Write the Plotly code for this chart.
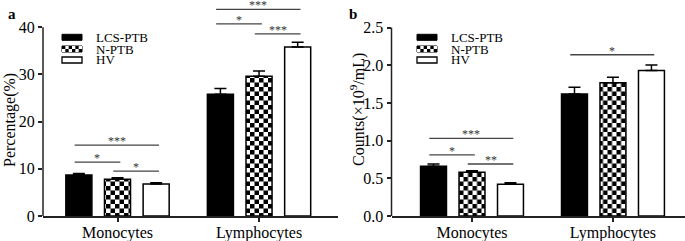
import plotly.graph_objects as go

# ---------------- data ----------------
categories = ["Monocytes", "Lymphocytes"]
groups = ["LCS-PTB", "N-PTB", "HV"]

pct_lcs = [8.7, 25.8]
pct_lcs_err = [0.3, 1.2]
pct_nptb = [7.8, 29.6]
pct_nptb_err = [0.3, 1.1]
pct_hv = [6.8, 35.8]
pct_hv_err = [0.25, 1.0]

cnt_lcs = [0.66, 1.62]
cnt_lcs_err = [0.03, 0.09]
cnt_nptb = [0.58, 1.77]
cnt_nptb_err = [0.02, 0.07]
cnt_hv = [0.42, 1.93]
cnt_hv_err = [0.02, 0.075]

pct_ticks = [0, 10, 20, 30, 40]
pct_ticklabels = ["0", "10", "20", "30", "40"]
cnt_ticks = [0, 0.5, 1.0, 1.5, 2.0, 2.5]
cnt_ticklabels = ["0.0", "0.5", "1.0", "1.5", "2.0", "2.5"]

# significance brackets: (category index, group a, group b, height, label)
pct_sig = [(0, 0, 2, 15.0, "***"), (0, 0, 1, 11.4, "*"), (0, 1, 2, 9.5, "*"),
           (1, 0, 2, 43.8, "***"), (1, 0, 1, 40.7, "*"), (1, 1, 2, 38.6, "***")]
cnt_sig = [(0, 0, 2, 1.03, "***"), (0, 0, 1, 0.81, "*"), (0, 1, 2, 0.69, "**"),
           (1, 0, 2, 2.14, "*")]

# ---------------- style ----------------
W, H = 685, 241
MT, MB = 6, 25
FONT = "Liberation Serif"
BARGAP = 0.181
BARGROUPGAP = 0.326
SLOT = (1 - BARGAP) / 3

def px2x(px):
    return px / W

def py2y(py):
    return (H - MB - py) / (H - MT - MB)

fill_colors = ["black", "white", "white"]

try:
    checker = go.bar.marker.Pattern(path="M0,0H4.5V4.5H0ZM4.5,4.5H9V9H4.5Z",
                                    size=9, fgcolor="black", bgcolor="white",
                                    fillmode="replace", solidity=1)
except Exception:
    checker = go.bar.marker.Pattern(shape="x", size=7, solidity=0.45,
                                    fgcolor="black", bgcolor="white",
                                    fillmode="replace")

fig = go.Figure()

panels = [
    ("x", "y", [pct_lcs, pct_nptb, pct_hv], [pct_lcs_err, pct_nptb_err, pct_hv_err]),
    ("x2", "y2", [cnt_lcs, cnt_nptb, cnt_hv], [cnt_lcs_err, cnt_nptb_err, cnt_hv_err]),
]

for xa, ya, vals, errs in panels:
    for gi, (g, v, e) in enumerate(zip(groups, vals, errs)):
        marker = dict(color=fill_colors[gi], line=dict(color="black", width=1.5))
        if gi == 1:
            marker["pattern"] = checker
        fig.add_trace(go.Bar(
            x=[0, 1], y=v, name=g, xaxis=xa, yaxis=ya, marker=marker,
            offsetgroup=str(gi), showlegend=False,
            error_y=dict(type="data", array=e, arrayminus=[0, 0], symmetric=False,
                         color="black", thickness=1.5, width=6),
        ))

fig.update_layout(
    width=W, height=H,
    margin=dict(l=0, r=0, t=MT, b=MB, autoexpand=False),
    paper_bgcolor="white", plot_bgcolor="white",
    barmode="group", bargap=BARGAP, bargroupgap=BARGROUPGAP,
    font=dict(family=FONT, size=16, color="black"),
    showlegend=False,
)

axis_common = dict(showgrid=False, zeroline=False, linecolor="#222", linewidth=1.5,
                   ticks="outside", ticklen=4, tickwidth=1.5, tickcolor="#222",
                   automargin=False,
                   tickfont=dict(family=FONT, size=16, color="black"))

fig.update_layout(
    xaxis=dict(domain=[px2x(43), px2x(338)], range=[-0.5265, 1.558], ticklabelstandoff=-3,
               tickvals=[0, 1], ticktext=categories, showline=True, anchor="y", **axis_common),
    yaxis=dict(domain=[0, 1], range=[0, 44.5], tickvals=pct_ticks, ticktext=pct_ticklabels,
               showline=False, anchor="x", **axis_common),
    xaxis2=dict(domain=[px2x(391.5), 1], range=[-0.571, 1.511], ticklabelstandoff=-3,
                tickvals=[0, 1], ticktext=categories, showline=True, anchor="y2", **axis_common),
    yaxis2=dict(domain=[0, 1], range=[0, 2.787], tickvals=cnt_ticks, ticktext=cnt_ticklabels,
                showline=False, anchor="x2", **axis_common),
)

shapes = []
annotations = []

# y-axis lines only up to the top tick
shapes.append(dict(type="line", xref="x domain", yref="y", x0=0, x1=0, y0=0, y1=pct_ticks[-1],
                   line=dict(color="#222", width=1.5)))
shapes.append(dict(type="line", xref="x2 domain", yref="y2", x0=0, x1=0, y0=0, y1=cnt_ticks[-1],
                   line=dict(color="#222", width=1.5)))

# significance brackets
for xa, ya, sig in [("x", "y", pct_sig), ("x2", "y2", cnt_sig)]:
    for ci, a, b, h, lab in sig:
        xa0 = ci + (a - 1) * SLOT - 0.03
        xb0 = ci + (b - 1) * SLOT + 0.02
        shapes.append(dict(type="line", xref=xa, yref=ya, x0=xa0, x1=xb0, y0=h, y1=h,
                           line=dict(color="#444", width=1.3)))
        annotations.append(dict(x=(xa0 + xb0) / 2, y=h, xref=xa, yref=ya, text=lab,
                                showarrow=False, yanchor="bottom", yshift=-5,
                                font=dict(family=FONT, size=12, color="#333")))

# manual legends
leg_rows = [37.3, 49.0, 60.0]
for sx, tx in [(62, 94), (417, 449)]:
    for gi, (g, cy) in enumerate(zip(groups, leg_rows)):
        x0, x1 = sx, sx + 20
        y0, y1 = cy - 3, cy + 3
        if gi == 0:
            shapes.append(dict(type="rect", xref="paper", yref="paper",
                               x0=px2x(x0), x1=px2x(x1), y0=py2y(y1), y1=py2y(y0),
                               fillcolor="black", line=dict(color="black", width=1)))
        elif gi == 1:
            shapes.append(dict(type="rect", xref="paper", yref="paper",
                               x0=px2x(x0), x1=px2x(x1), y0=py2y(y1), y1=py2y(y0),
                               fillcolor="black", line=dict(color="black", width=1)))
            ncol, nrow = 6, 2
            cw, ch = 20 / ncol, 6 / nrow
            for r in range(nrow):
                for c in range(ncol):
                    if (r + c) % 2 == 1:
                        shapes.append(dict(type="rect", xref="paper", yref="paper",
                                           x0=px2x(x0 + c * cw), x1=px2x(x0 + (c + 1) * cw),
                                           y0=py2y(y0 + (r + 1) * ch), y1=py2y(y0 + r * ch),
                                           fillcolor="white", line=dict(width=0)))
        else:
            shapes.append(dict(type="rect", xref="paper", yref="paper",
                               x0=px2x(x0), x1=px2x(x1), y0=py2y(y1), y1=py2y(y0),
                               fillcolor="white", line=dict(color="black", width=1.3)))
        annotations.append(dict(x=px2x(tx), y=py2y(cy), xref="paper", yref="paper",
                                text=g, showarrow=False, xanchor="left", yanchor="middle",
                                height=11, valign="middle",
                                font=dict(family=FONT, size=13, color="black")))

# axis titles and panel labels
annotations.append(dict(x=px2x(10), y=py2y(120), xref="paper", yref="paper",
                        text="Percentage(%)", textangle=-90, showarrow=False,
                        xanchor="center", yanchor="middle",
                        font=dict(family=FONT, size=16, color="black")))
annotations.append(dict(x=px2x(357), y=py2y(110), xref="paper", yref="paper",
                        text="Counts(×10<sup>9</sup>/mL)", textangle=-90, showarrow=False,
                        xanchor="center", yanchor="middle",
                        font=dict(family=FONT, size=16, color="black")))
annotations.append(dict(x=px2x(12), y=py2y(14), xref="paper", yref="paper",
                        text="<b>a</b>", showarrow=False, xanchor="center", yanchor="middle",
                        font=dict(family=FONT, size=15, color="black")))
annotations.append(dict(x=px2x(353), y=py2y(14), xref="paper", yref="paper",
                        text="<b>b</b>", showarrow=False, xanchor="center", yanchor="middle",
                        font=dict(family=FONT, size=15, color="black")))

fig.update_layout(shapes=shapes, annotations=annotations)
fig.write_html("out.html", config={"displayModeBar": False},
               post_script="document.body.style.margin='0';document.body.style.overflow='hidden';")
